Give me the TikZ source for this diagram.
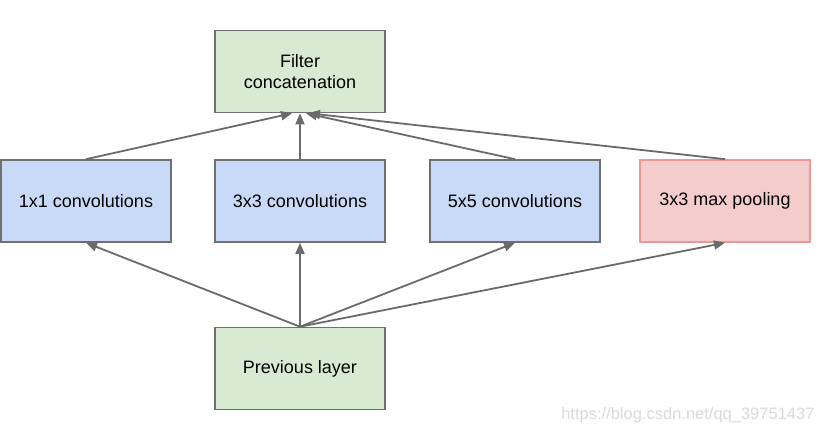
\documentclass[tikz,border=0pt]{standalone}
\usepackage{fontspec}
\setmainfont{Liberation Sans}
\usetikzlibrary{arrows.meta}
\definecolor{greenfill}{HTML}{D9EAD3}
\definecolor{bluefill}{HTML}{C9DAF8}
\definecolor{redfill}{HTML}{F4CCCC}
\definecolor{redline}{HTML}{EA9999}
\definecolor{boxline}{HTML}{707070}
\definecolor{arrowline}{HTML}{6A6A6A}
\begin{document}
\begin{tikzpicture}[x=1pt,y=-1pt,
  box/.style={draw=boxline,line width=1.6pt,minimum width=170pt,minimum height=82pt,
    inner sep=0pt,align=center,font=\fontsize{18}{21.5}\selectfont},
  greenbox/.style={box,fill=greenfill},
  bluebox/.style={box,fill=bluefill},
  redbox/.style={box,fill=redfill,draw=redline},
  flow/.style={draw=arrowline,line width=1.8pt,-{Triangle[length=11pt,width=9pt]}}]
\useasboundingbox (0,0) rectangle (826,434);

\node[greenbox] (concat) at (300,71.5) {Filter\\concatenation};

\node[bluebox] (conv1) at (86,201) {1x1 convolutions};
\node[bluebox] (conv3) at (300,201) {3x3 convolutions};
\node[bluebox] (conv5) at (515,201) {5x5 convolutions};
\node[redbox] (pool) at (725,201) {3x3 max pooling};

\node[greenbox] (prev) at (300,368.5) {Previous layer};

\node[text=black!15,font=\fontsize{16.5}{19}\selectfont,anchor=east] (mark) at (818,415) {https://blog.csdn.net/qq\_39751437};

\coordinate (in1) at ([xshift=-8pt]concat.south);
\coordinate (in5) at ([xshift=6pt]concat.south);
\coordinate (in7) at ([xshift=9pt]concat.south);

\draw[flow] (conv1.north) -- (in1);
\draw[flow] (conv3.north) -- (concat.south);
\draw[flow] (conv5.north) -- (in5);
\draw[flow] (pool.north) -- (in7);

\draw[flow] (prev.north) -- (conv1.south);
\draw[flow] (prev.north) -- (conv3.south);
\draw[flow] (prev.north) -- (conv5.south);
\draw[flow] (prev.north) -- (pool.south);
\end{tikzpicture}
\end{document}
